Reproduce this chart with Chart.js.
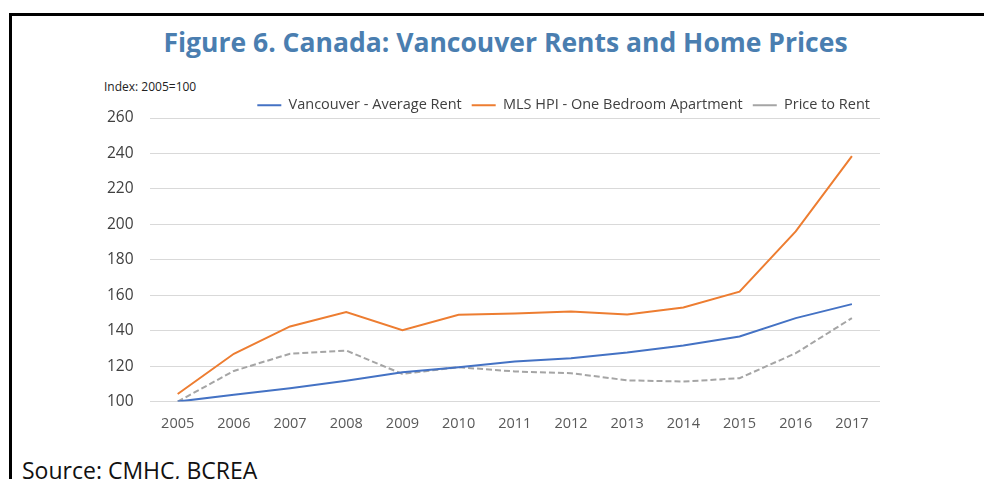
<!DOCTYPE html>
<html>
<head>
<meta charset="utf-8">
<script src="https://cdn.jsdelivr.net/npm/chart.js@4.4.1/dist/chart.umd.min.js"></script>
<style>
  body { margin: 0; width: 984px; height: 479px; overflow: hidden; background: #fff; font-family: "Open Sans", sans-serif; position: relative; }
  #frame { position: absolute; left: 9px; top: 13px; right: -5px; bottom: -5px; border-left: 3px solid #000; border-top: 3px solid #000; }
  #title { position: absolute; left: 0; width: 1011px; top: 24px; text-align: center; font-weight: bold; font-size: 26.5px; color: #4a7eb0; }
  #index { position: absolute; left: 104px; top: 78px; font-size: 12px; color: #222; }
  #source { position: absolute; left: 22px; top: 454px; font-size: 23px; color: #111; }
  #box { position: absolute; left: 81px; top: 88px; width: 804px; height: 359px; }
</style>
</head>
<body>
<div id="frame"></div>
<div id="title">Figure 6. Canada: Vancouver Rents and Home Prices</div>
<div id="index">Index: 2005=100</div>
<div id="source">Source: CMHC, BCREA</div>
<div id="box"><canvas id="myChart"></canvas></div>
<script>
var years = ['2005', '2006', '2007', '2008', '2009', '2010', '2011', '2012', '2013', '2014', '2015', '2016', '2017'];
var avgRent = [100, 103.8, 107.5, 111.7, 116.6, 119.4, 122.6, 124.5, 127.7, 131.7, 136.7, 147.1, 155];
var mlsHpi = [104.3, 127, 142.4, 150.5, 140.3, 149, 149.7, 150.9, 149.2, 153.1, 162, 196, 238.5];
var priceToRent = [100, 117.3, 127, 128.8, 115.6, 119.4, 117, 116, 112, 111.3, 113.2, 127.3, 147.1];
var yTicks = [100, 120, 140, 160, 180, 200, 220, 240, 260];

var ctx = document.getElementById('myChart').getContext('2d');
var chart = new Chart(ctx, {
    type: 'line',
    data: {
        labels: years,
        datasets: [{
            label: 'Vancouver - Average Rent',
            data: avgRent,
            borderColor: '#4472c4',
            backgroundColor: '#4472c4',
            borderWidth: 2,
            pointRadius: 0,
            pointStyle: 'line'
        }, {
            label: 'MLS HPI - One Bedroom Apartment',
            data: mlsHpi,
            borderColor: '#ed7d31',
            backgroundColor: '#ed7d31',
            borderWidth: 2,
            pointRadius: 0,
            pointStyle: 'line'
        }, {
            label: 'Price to Rent',
            data: priceToRent,
            borderColor: '#a5a5a5',
            backgroundColor: '#a5a5a5',
            borderWidth: 2,
            borderDash: [6, 3],
            pointRadius: 0,
            pointStyle: 'line'
        }]
    },
    options: {
        responsive: true,
        maintainAspectRatio: false,
        animation: false,
        layout: { padding: { left: 10, right: 5, top: 0, bottom: 0 } },
        plugins: {
            tooltip: { enabled: false },
            legend: {
                position: 'top',
                align: 'end',
                maxHeight: 30,
                labels: {
                    usePointStyle: true,
                    pointStyleWidth: 24,
                    boxHeight: 10,
                    padding: 10,
                    color: '#404040',
                    font: { family: 'Open Sans', size: 14.5 }
                }
            }
        },
        scales: {
            x: {
                offset: true,
                grid: { display: false, drawTicks: false },
                border: { display: false },
                ticks: { color: '#595959', padding: 14, font: { family: 'Open Sans', size: 14.5 } }
            },
            y: {
                min: 100,
                max: 260,
                afterBuildTicks: function(axis) {
                    axis.ticks = yTicks.map(function(v) { return { value: v }; });
                },
                grid: { color: '#d9d9d9', lineWidth: 1, drawTicks: false },
                border: { display: false },
                ticks: { color: '#404040', padding: 16, font: { family: 'Open Sans', size: 15.5 } }
            }
        }
    }
});
</script>
</body>
</html>
